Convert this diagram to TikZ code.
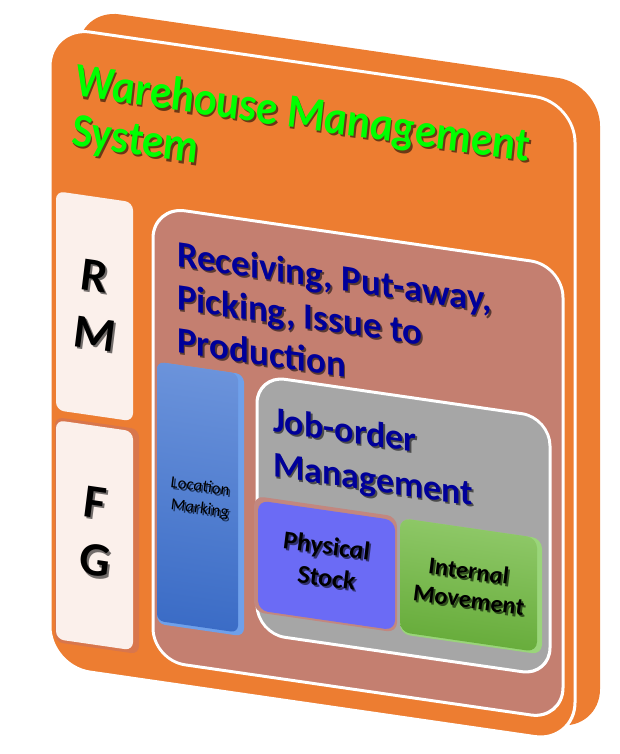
\documentclass[tikz,border=0pt]{standalone}
\usepackage{fontspec}
\setmainfont{Carlito}
\definecolor{org}{HTML}{ED7D31}
\definecolor{orgdark}{HTML}{D8764C}
\definecolor{brownbox}{HTML}{C47F70}
\definecolor{graybox}{HTML}{A6A6A6}
\definecolor{cream}{HTML}{FBF0EB}
\definecolor{blutop}{HTML}{6B93DB}
\definecolor{blubot}{HTML}{3B6CC6}
\definecolor{bluedge}{HTML}{6FA0EA}
\definecolor{purp}{HTML}{6B6BF5}
\definecolor{rosrim}{HTML}{C2877F}
\definecolor{grntop}{HTML}{8DC766}
\definecolor{grnbot}{HTML}{68AD3C}
\definecolor{grnedge}{HTML}{9AD57A}
\definecolor{navytxt}{HTML}{00009A}
\definecolor{titlegreen}{HTML}{00FF00}
\newcommand\shd[2]{\leavevmode\rlap{\kern1.8pt\raisebox{-1.8pt}{\textcolor{#1}{#2}}}#2}
\tikzset{
  txt/.style={inner sep=0pt, outer sep=0pt},
  titlefont/.style={font=\fontsize{43}{50}\selectfont\bfseries\itshape},
  headfont/.style={font=\fontsize{37}{43}\selectfont\bfseries, align=left},
  jobfont/.style={font=\fontsize{36}{45}\selectfont\bfseries, align=left},
  letterfont/.style={font=\fontsize{48}{58}\selectfont\bfseries\itshape, align=center},
  smallfont/.style={font=\fontsize{17}{22}\selectfont\itshape, align=center},
  midfont/.style={font=\fontsize{26}{32}\selectfont\bfseries\itshape, align=center},
  movfont/.style={font=\fontsize{24.5}{29}\selectfont\bfseries\itshape, align=center},
}
\begin{document}
\begin{tikzpicture}[x=1pt,y=-1pt]
\useasboundingbox (0,0) rectangle (620,754);
\begin{scope}[transform canvas={cm={1,-0.145,0,1,(0,0)}}]
  % back and front orange panels
  \path[fill=org, rounded corners=42pt] (78,-3) rectangle (600,644);
  \path[fill=org, draw=white, line width=3pt, rounded corners=40pt] (50,19) rectangle (575,659);
  % title
  \node[txt, titlefont, text=titlegreen, anchor=base west, transform shape, yscale=1.12] (title1) at (75,85) {\shd{org!45!black}{Warehouse Management}};
  \node[txt, titlefont, text=titlegreen, anchor=base west, transform shape, yscale=1.12] (title2) at (72,135) {\shd{org!45!black}{System}};
  % RM and FG boxes
  \path[fill=cream, rounded corners=8pt] (56,183) rectangle (133,402);
  \path[fill=orgdark, rounded corners=8pt] (55,409) rectangle (139,634);
  \path[fill=cream, rounded corners=8pt] (56,412) rectangle (133,631);
  \node[txt, letterfont] (rm) at (94.5,292) {\shd{cream!45!black}{R}\\\shd{cream!45!black}{M}};
  \node[txt, letterfont] (fg) at (94.5,519) {\shd{cream!45!black}{F}\\\shd{cream!45!black}{G}};
  % brown box
  \path[fill=brownbox, draw=white, line width=3pt, rounded corners=32pt] (153,184) rectangle (563,638);
  \node[txt, headfont, text=navytxt, anchor=base west] (recv) at (177,327) {\shd{brownbox!45!black}{Receiving, Put-away,}\\\shd{brownbox!45!black}{Picking, Issue to}\\\shd{brownbox!45!black}{Production}};
  % blue location box
  \path[fill=bluedge, rounded corners=8pt] (157,339) rectangle (244,601);
  \path[top color=blutop, bottom color=blubot, rounded corners=7pt] (157,339) rectangle (238,598);
  \node[txt, smallfont] (loc) at (200,470) {\shd{blubot!45!black}{Location}\\\shd{blubot!45!black}{Marking}};
  % gray box
  \path[fill=graybox, draw=white, line width=3pt, rounded corners=28pt] (257,338) rectangle (550,596);
  \node[txt, jobfont, text=navytxt, anchor=base west] (job) at (273,437) {\shd{graybox!45!black}{Job-order}\\\shd{graybox!45!black}{Management}};
  % physical stock
  \path[fill=rosrim, rounded corners=10pt] (254,459) rectangle (397,575);
  \path[fill=purp, rounded corners=10pt] (258,463) rectangle (395,573);
  \node[txt, midfont] (phy) at (326.5,515) {\shd{purp!45!black}{Physical}\\\shd{purp!45!black}{Stock}};
  % internal movement
  \path[fill=grnedge, rounded corners=10pt] (400,460) rectangle (542,576);
  \path[top color=grntop, bottom color=grnbot, rounded corners=10pt] (400,460) rectangle (537,574);
  \node[txt, movfont] (mov) at (468.5,518) {\shd{grnbot!45!black}{Internal}\\\shd{grnbot!45!black}{Movement}};
\end{scope}
\end{tikzpicture}
\end{document}
